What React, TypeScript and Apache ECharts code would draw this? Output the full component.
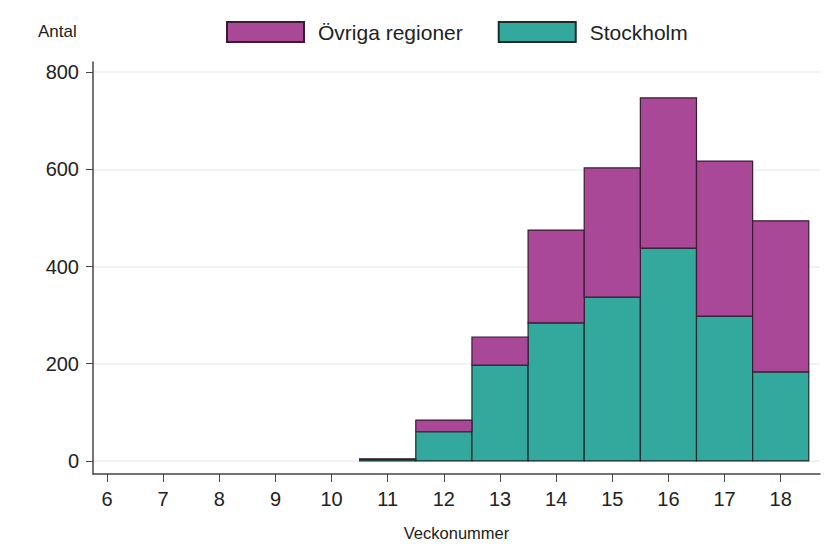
import React, { useEffect, useRef } from "react";
import * as echarts from "echarts";

const weeks = [11, 12, 13, 14, 15, 16, 17, 18];
const stockholm = [3, 60, 197, 284, 337, 438, 298, 183];
const ovriga = [1, 24, 58, 191, 266, 309, 319, 311];
const xTicks = [6, 7, 8, 9, 10, 11, 12, 13, 14, 15, 16, 17, 18];
const yTicks = [0, 200, 400, 600, 800];

const FONT = "Liberation Sans, Arial, sans-serif";
const TEAL = "#33a89c";
const PURPLE = "#a84896";

export default function App() {
  const ref = useRef<HTMLDivElement>(null);
  useEffect(() => {
    if (!ref.current) return;
    const chart = echarts.init(ref.current, undefined, { renderer: "svg" });
    const renderBar = (params: any, api: any) => {
      const w = api.value(0);
      const y0 = api.value(1);
      const y1 = api.value(2);
      const p0 = api.coord([w - 0.5, y0]);
      const p1 = api.coord([w + 0.5, y1]);
      return {
        type: "rect",
        shape: { x: p0[0], y: p1[1], width: p1[0] - p0[0], height: p0[1] - p1[1] },
        style: api.style(),
      };
    };
    const stockData = weeks.map((w, i) => [w, 0, stockholm[i]]);
    const ovrData = weeks.map((w, i) => [w, stockholm[i], stockholm[i] + ovriga[i]]);
    chart.setOption({
      animation: false,
      textStyle: { fontFamily: FONT },
      legend: {
        top: 21,
        left: 226,
        padding: 0,
        itemWidth: 77,
        itemHeight: 20,
        itemGap: 35,
        icon: "rect",
        textStyle: { fontSize: 21, color: "#222", fontFamily: FONT, padding: [0, 0, 0, 9] },
        data: ["Övriga regioner", "Stockholm"],
      },
      graphic: [
        {
          type: "text",
          left: 38,
          top: 23,
          style: { text: "Antal", fontSize: 17, fill: "#222", fontFamily: FONT },
        },
      ],
      grid: { left: 93, right: 12, top: 62, bottom: 72 },
      xAxis: {
        type: "value",
        min: 5.75,
        max: 18.7,
        name: "Veckonummer",
        nameLocation: "middle",
        nameGap: 50,
        nameTextStyle: { fontSize: 16.5, color: "#222", fontFamily: FONT },
        axisLine: { onZero: false, lineStyle: { color: "#444", width: 1.5 } },
        axisTick: { show: true, length: 8, customValues: xTicks, lineStyle: { color: "#444" } },
        axisLabel: { customValues: xTicks, fontSize: 20, color: "#222", margin: 15, fontFamily: FONT },
        splitLine: { show: false },
      },
      yAxis: {
        type: "value",
        min: -27,
        max: 821,
        axisLine: { show: true, onZero: false, lineStyle: { color: "#444", width: 1.5 } },
        axisTick: { show: true, length: 7, customValues: yTicks, lineStyle: { color: "#444" } },
        axisLabel: { customValues: yTicks, fontSize: 20, color: "#222", margin: 14, fontFamily: FONT },
        splitLine: { show: true, lineStyle: { color: "#e9eff1", width: 1.5 } },
      },
      series: [
        {
          name: "Stockholm",
          type: "custom",
          renderItem: renderBar,
          encode: { x: 0, y: [1, 2] },
          itemStyle: { color: TEAL, borderColor: "#1d2b2a", borderWidth: 1.2 },
          data: stockData,
          z: 3,
        },
        {
          name: "Övriga regioner",
          type: "custom",
          renderItem: renderBar,
          encode: { x: 0, y: [1, 2] },
          itemStyle: { color: PURPLE, borderColor: "#3a1a35", borderWidth: 1.2 },
          data: ovrData,
          z: 3,
        },
      ],
    });
    return () => chart.dispose();
  }, []);
  return <div ref={ref} style={{ width: 832, height: 546, position: "absolute", left: 0, top: 0 }} />;
}
